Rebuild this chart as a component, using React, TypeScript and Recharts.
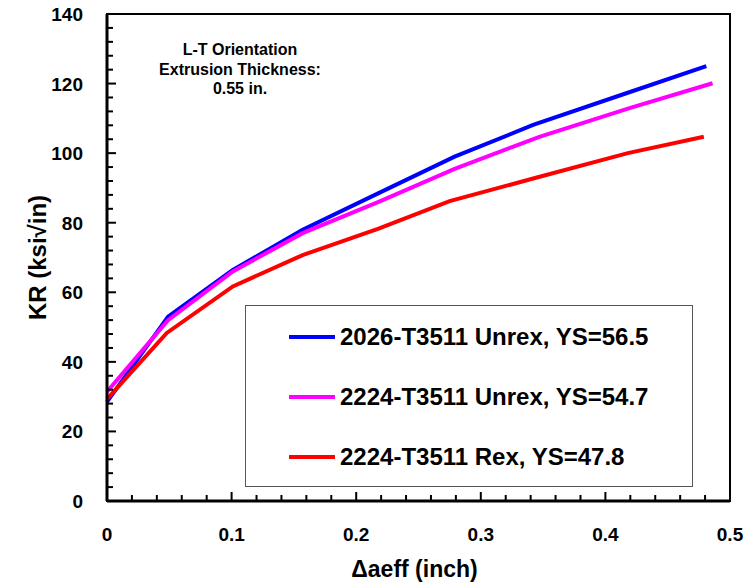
import React from "react";
import { ComposedChart, Line, Scatter, XAxis, YAxis, ReferenceArea } from "recharts";

const xTicks = [
  0, 0.02, 0.04, 0.06, 0.08, 0.1, 0.12, 0.14, 0.16, 0.18, 0.2, 0.22, 0.24, 0.26, 0.28, 0.3,
  0.32, 0.34, 0.36, 0.38, 0.4, 0.42, 0.44, 0.46, 0.48, 0.5,
];
const yTicks = [
  0, 4, 8, 12, 16, 20, 24, 28, 32, 36, 40, 44, 48, 52, 56, 60, 64, 68, 72, 76, 80, 84, 88, 92,
  96, 100, 104, 108, 112, 116, 120, 124, 128, 132, 136, 140,
];
const xLabels = [0, 0.1, 0.2, 0.3, 0.4, 0.5];
const yLabels = [0, 20, 40, 60, 80, 100, 120, 140];

// [delta a eff, KR]
const unrex2026 = [
  [0, 28.5], [0.049, 53], [0.101, 66.4], [0.157, 78], [0.218, 88.5],
  [0.279, 99], [0.342, 108.1], [0.415, 117], [0.481, 125],
];
const unrex2224 = [
  [0, 31.4], [0.049, 52], [0.101, 66], [0.157, 77], [0.218, 86],
  [0.279, 95.5], [0.347, 104.7], [0.42, 113], [0.486, 120.1],
];
const rex2224 = [
  [0, 29.3], [0.048, 48.3], [0.101, 61.7], [0.157, 70.7], [0.218, 78.3],
  [0.275, 86.2], [0.345, 93], [0.418, 100], [0.479, 104.7],
];

const seriesNames = [
  "2026-T3511 Unrex, YS=56.5",
  "2224-T3511 Unrex, YS=54.7",
  "2224-T3511 Rex, YS=47.8",
];
const seriesColors = ["#0000ff", "#ff00ff", "#ff0000"];
const noteLines = ["L-T Orientation", "Extrusion Thickness:", "0.55 in."];

const toPoints = (rows: number[][]) => rows.map(([a, k]) => ({ a, k }));
const series = [unrex2026, unrex2224, rex2224].map(toPoints);

// anchor points for the inward tick marks along the bottom and left edges
const xTickPts = xTicks.map((a) => ({ a, k: 0 }));
const yTickPts = yTicks.map((k) => ({ a: 0, k }));

const sans = "'Liberation Sans', Arial, Helvetica, sans-serif";

const near = (v: number, list: number[]) => list.some((l) => Math.abs(l - v) < 1e-6);

const xTickShape = (p: any) => {
  const len = near(p.payload.a, xLabels) ? 9 : 6;
  return <line x1={p.cx} y1={p.cy} x2={p.cx} y2={p.cy - len} stroke="#000" strokeWidth={2} />;
};

const yTickShape = (p: any) => {
  const len = near(p.payload.k, yLabels) ? 9 : 6;
  return <line x1={p.cx} y1={p.cy} x2={p.cx + len} y2={p.cy} stroke="#000" strokeWidth={2} />;
};

function XTick(props: any) {
  const { x, y, payload } = props;
  if (!near(payload.value, xLabels)) return null;
  return (
    <text x={x} y={y + 40} textAnchor="middle" fontFamily={sans} fontWeight="bold" fontSize={19} fill="#000">
      {payload.value}
    </text>
  );
}

function YTick(props: any) {
  const { x, y, payload } = props;
  if (!near(payload.value, yLabels)) return null;
  return (
    <text x={x - 24} y={y + 7} textAnchor="end" fontFamily={sans} fontWeight="bold" fontSize={19} fill="#000">
      {payload.value}
    </text>
  );
}

function YTitle(props: any) {
  const vb = props.viewBox;
  const cx = vb.x + 37;
  const cy = vb.y + vb.height / 2;
  return (
    <text
      x={cx}
      y={cy}
      transform={`rotate(-90 ${cx} ${cy})`}
      textAnchor="middle"
      dominantBaseline="central"
      fontFamily={sans}
      fontWeight="bold"
      fontSize={24}
      fill="#000"
    >
      KR (ksi{"\u221A"}in)
    </text>
  );
}

function XTitle(props: any) {
  const vb = props.viewBox;
  return (
    <text
      x={vb.x + vb.width / 2 - 4}
      y={vb.y + 76}
      textAnchor="middle"
      fontFamily={sans}
      fontWeight="bold"
      fontSize={23}
      fill="#000"
    >
      {"\u0394"}aeff (inch)
    </text>
  );
}

export default function App() {
  return (
    <div style={{ position: "absolute", left: 0, top: 0, width: 752, height: 583, background: "#fff" }}>
      <ComposedChart width={752} height={583} margin={{ top: 14, right: 22, left: 0, bottom: 0 }}>
        <XAxis
          type="number"
          dataKey="a"
          domain={[0, 0.5]}
          ticks={xTicks}
          interval={0}
          height={82}
          tickSize={0}
          tickMargin={0}
          tickLine={false}
          tick={<XTick />}
          axisLine={{ stroke: "#000", strokeWidth: 3 }}
          allowDuplicatedCategory={false}
          label={{ content: <XTitle /> }}
        />
        <YAxis
          type="number"
          dataKey="k"
          domain={[0, 140]}
          ticks={yTicks}
          interval={0}
          width={107}
          tickSize={0}
          tickMargin={0}
          tickLine={false}
          tick={<YTick />}
          axisLine={{ stroke: "#000", strokeWidth: 3 }}
          label={{ content: <YTitle /> }}
        />
        <ReferenceArea x1={0} x2={0.5} y1={0} y2={140} fill="none" stroke="#000" strokeWidth={2} ifOverflow="visible" />
        <Scatter data={xTickPts} dataKey="k" shape={xTickShape} isAnimationActive={false} legendType="none" />
        <Scatter data={yTickPts} dataKey="k" shape={yTickShape} isAnimationActive={false} legendType="none" />
        {series.map((data, i) => (
          <Line
            key={seriesNames[i]}
            data={data}
            dataKey="k"
            name={seriesNames[i]}
            type="linear"
            stroke={seriesColors[i]}
            strokeWidth={4}
            dot={false}
            isAnimationActive={false}
          />
        ))}
      </ComposedChart>
      <div
        style={{
          position: "absolute",
          left: 245,
          top: 305,
          width: 448,
          height: 182,
          border: "1px solid #555",
          background: "#fff",
          boxSizing: "border-box",
        }}
      >
        {seriesNames.map((name, i) => (
          <div
            key={name}
            style={{ position: "absolute", left: 0, top: 16 + i * 60, height: 30, display: "flex", alignItems: "center" }}
          >
            <div style={{ width: 46, height: 4, background: seriesColors[i], marginLeft: 43, marginRight: 5 }} />
            <span style={{ fontFamily: sans, fontWeight: "bold", fontSize: 24, color: "#000", whiteSpace: "nowrap" }}>
              {name}
            </span>
          </div>
        ))}
      </div>
      <div
        style={{
          position: "absolute",
          left: 140,
          top: 40,
          width: 200,
          textAlign: "center",
          fontFamily: sans,
          fontWeight: "bold",
          fontSize: 16,
          lineHeight: "19.5px",
          color: "#000",
        }}
      >
        {noteLines.map((t) => (
          <div key={t}>{t}</div>
        ))}
      </div>
    </div>
  );
}
